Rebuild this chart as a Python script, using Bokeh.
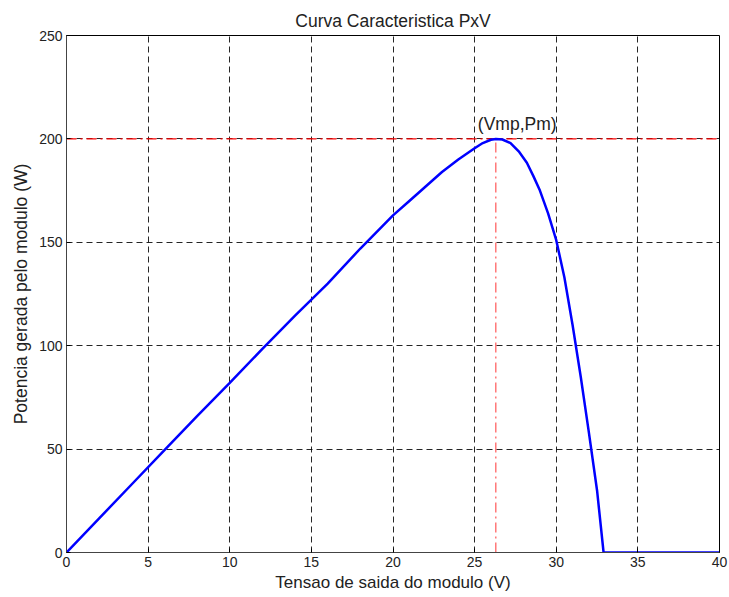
from bokeh.plotting import figure
from bokeh.embed import file_html
from bokeh.resources import INLINE
from bokeh.models import FixedTicker, Label

V = [0, 2, 4, 6, 8, 10, 12, 14, 16, 18, 20, 21, 22, 23, 24, 25, 25.5, 26, 26.3,
     26.7, 27.2, 27.7, 28.2, 28.6, 29, 29.5, 30, 30.5, 31, 31.5, 32, 32.5, 32.9,
     33, 35, 38, 40]
P = [0, 16.5, 33, 49.5, 66, 82, 98.5, 114.5, 130, 147, 163, 170, 177, 184, 190,
     195.5, 198, 199.6, 200, 199.7, 198, 194, 188.5, 182, 175, 164, 151, 133, 110,
     85, 58, 30, 0, 0, 0, 0, 0]
Vmp = 26.3
Pm = 200
x_ticks = [0, 5, 10, 15, 20, 25, 30, 35, 40]
y_ticks = [0, 50, 100, 150, 200, 250]

FONT = "Liberation Sans"

p = figure(width=729, height=597, output_backend="svg", toolbar_location=None,
           x_range=(0, 40), y_range=(0, 250),
           title="Curva Caracteristica PxV",
           min_border_left=66, min_border_right=10, min_border_top=35,
           min_border_bottom=45)

p.title.align = "center"
p.title.text_font = FONT
p.title.text_font_size = "17.5px"
p.title.text_font_style = "normal"
p.title.text_color = "#222222"

p.outline_line_color = "black"
p.outline_line_width = 1

for g in (p.xgrid, p.ygrid):
    g.grid_line_color = "black"
    g.grid_line_dash = "6 4"
    g.grid_line_alpha = 0.85

p.xaxis.ticker = FixedTicker(ticks=x_ticks)
p.yaxis.ticker = FixedTicker(ticks=y_ticks)
for ax in (p.xaxis[0], p.yaxis[0]):
    ax.major_label_text_font = FONT
    ax.major_label_text_font_size = "14px"
    ax.major_label_text_color = "#222222"
    ax.axis_label_text_font = FONT
    ax.axis_label_text_font_size = "17.5px"
    ax.axis_label_text_font_style = "normal"
    ax.axis_label_text_color = "#222222"
    ax.minor_tick_line_color = None
    ax.major_tick_out = 0
    ax.major_tick_in = 4
    ax.axis_line_color = "#444444"
    ax.major_label_standoff = 4

p.xaxis.axis_label_text_font_size = "17px"
p.xaxis.axis_label = "Tensao de saida do modulo (V)"
p.yaxis.axis_label = "Potencia gerada pelo modulo (W)"
p.xaxis.axis_label_standoff = 3
p.yaxis.axis_label_standoff = 5

p.line([x_ticks[0], x_ticks[-1]], [Pm, Pm], line_color="red", line_dash="10 4 2 4", line_width=1.2)
p.line([Vmp, Vmp], [0, Pm], line_color="red", line_dash="10 4 2 4", line_width=1, line_alpha=0.8)
p.line(V, P, line_color="#0000ff", line_width=2.5)

p.add_layout(Label(x=Vmp, y=Pm, text="(Vmp,Pm)", text_align="left",
                   x_offset=-18, y_offset=5, text_font=FONT, text_font_size="17.5px",
                   text_color="#222222"))

open("out.html", "w").write(file_html(p, INLINE))
